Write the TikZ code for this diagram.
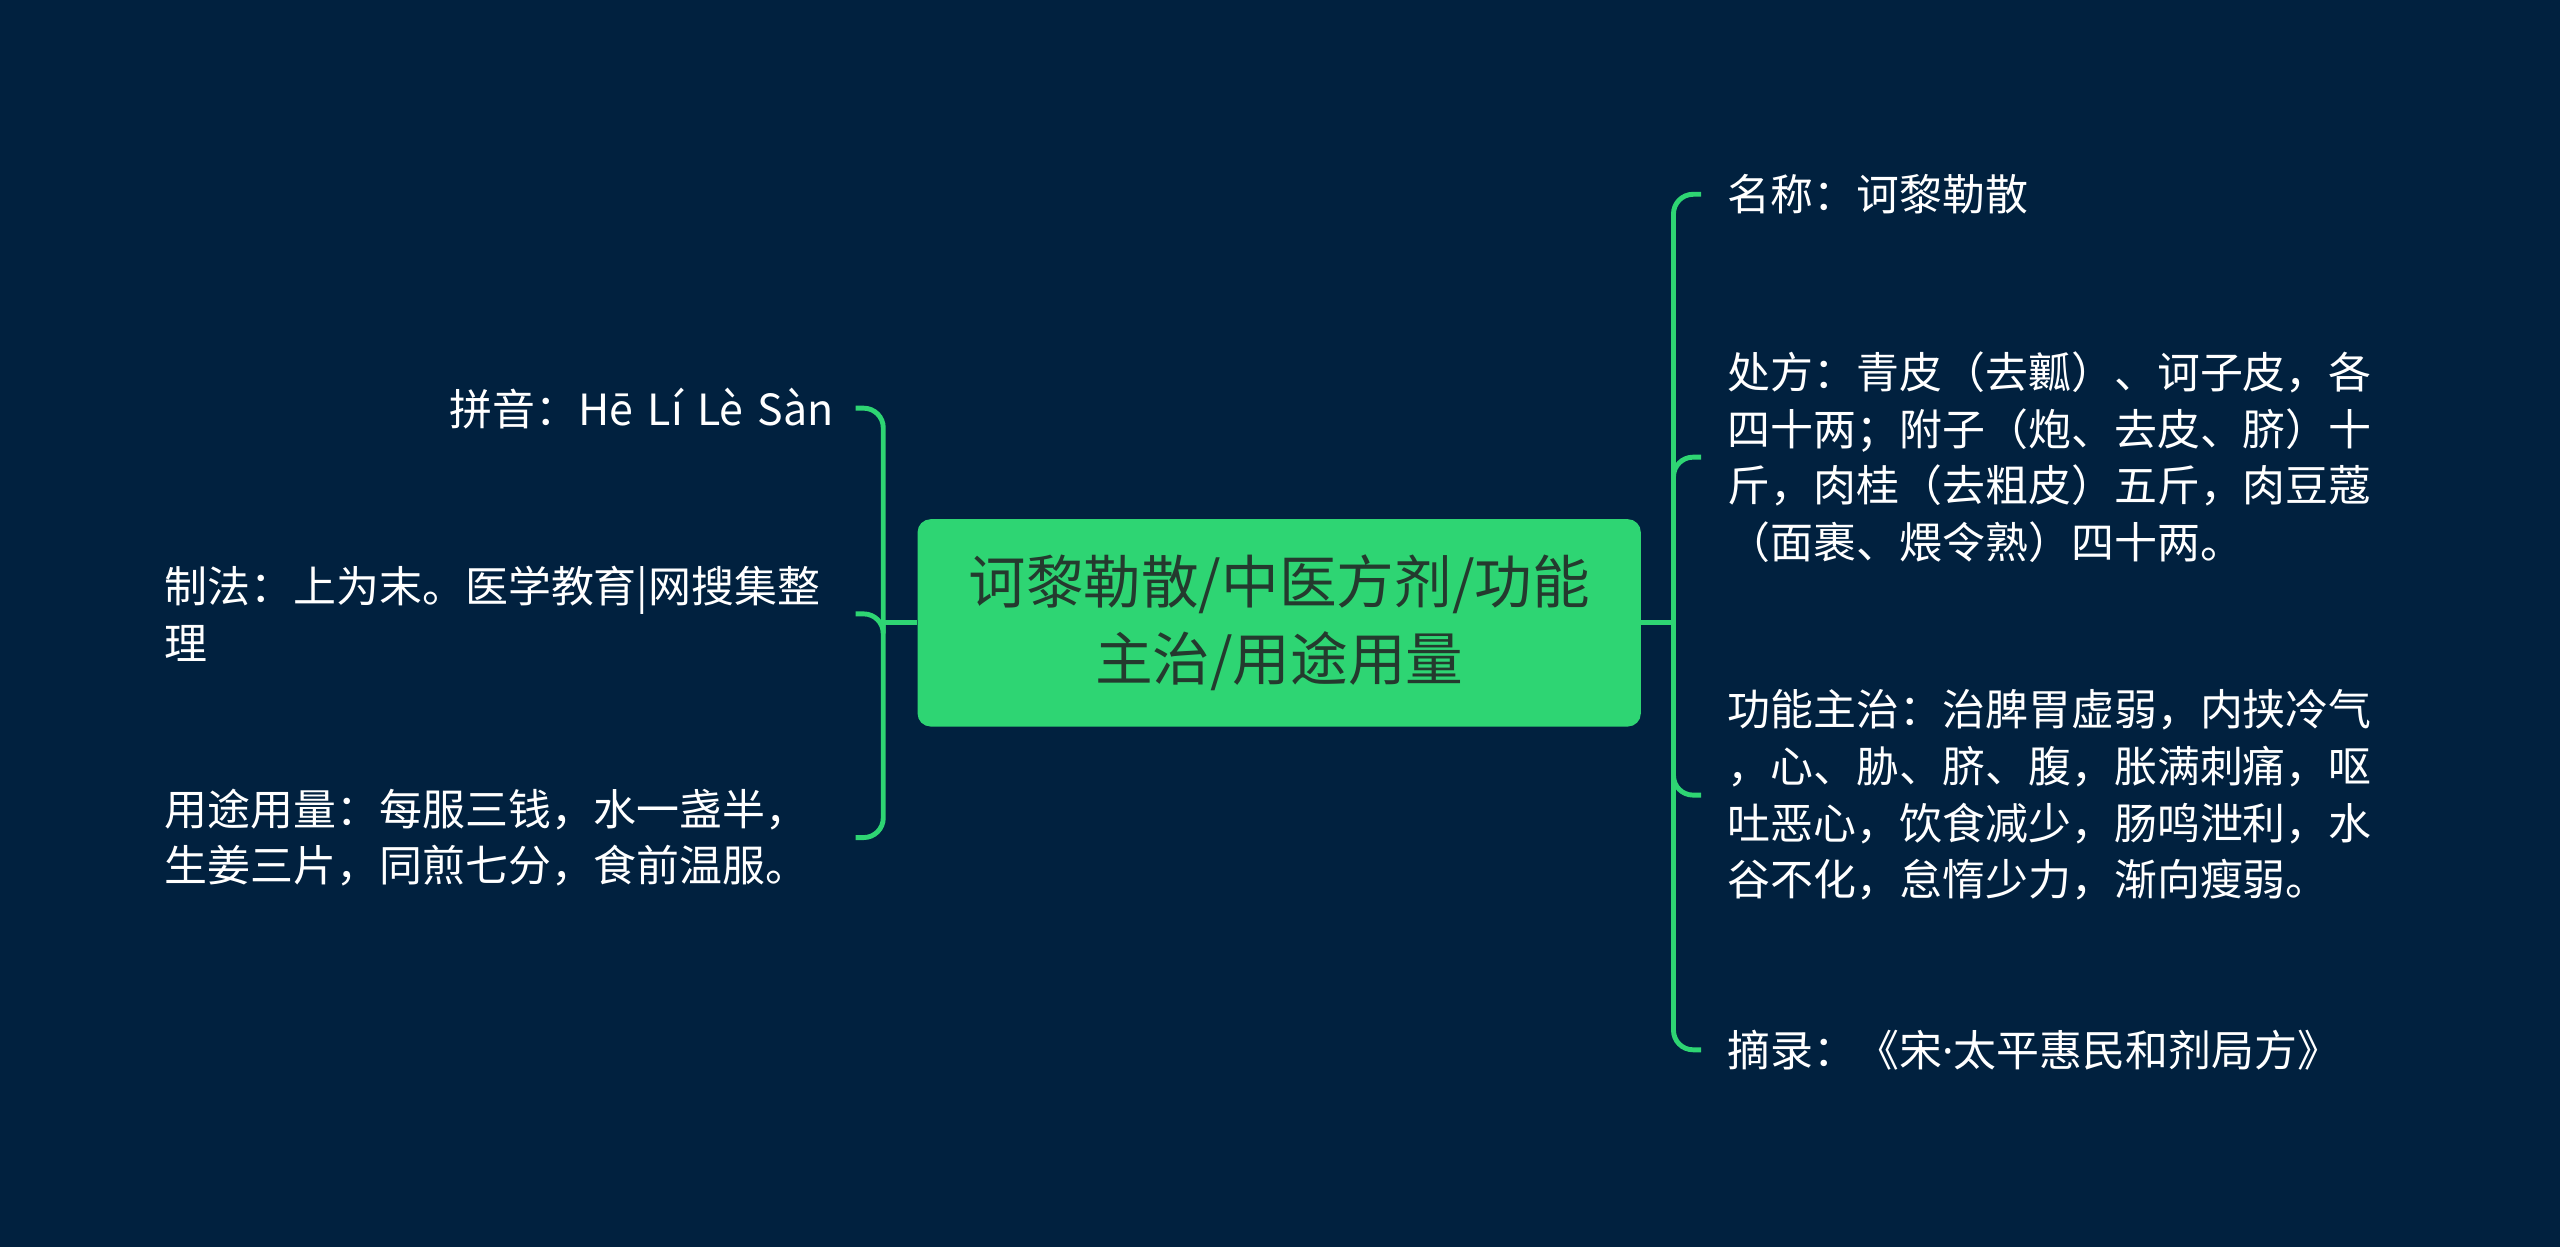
\documentclass[tikz,border=0pt]{standalone}
\usepackage{fontspec}
\setmainfont{Noto Sans CJK SC}
\newfontfamily\latinfont{Noto Sans}
\usetikzlibrary{positioning}
\definecolor{bg}{HTML}{01213F}
\definecolor{mint}{HTML}{2ED573}
\definecolor{ink}{HTML}{243A2E}
\tikzset{
  core/.style={
    shape = rectangle,
    rounded corners = 8pt,
    fill = mint,
    text = ink,
    minimum width = 443pt,
    minimum height = 127pt,
    align = center,
    font = \fontsize{35.3}{47}\selectfont
  },
  leafL/.style={
    anchor = east,
    text = white,
    inner xsep = 13pt,
    inner ysep = 0pt,
    text width = 410pt,
    align = left,
    font = \fontsize{26.3}{34.7}\selectfont
  },
  leafR/.style={
    anchor = west,
    text = white,
    inner xsep = 16pt,
    inner ysep = 0pt,
    text width = 400pt,
    align = left,
    font = \fontsize{26.3}{34.7}\selectfont
  },
  branch/.style={
    draw = mint,
    line width = 3pt,
    rounded corners = 12pt
  }
}
\begin{document}
\begin{tikzpicture}[x=1pt,y=-1pt]
    \def\lx{541}
    \def\rx{1025}
    \fill[bg] (0,0) rectangle (1568,764);
    \useasboundingbox (0,0) rectangle (1568,764);
        % centre
        \node[core] (core) at (783.5,381.5) {诃黎勒散/中医方剂/功能\\主治/用途用量};
        \coordinate (lhub) at (\lx,381.5);
        \coordinate (rhub) at (\rx,381.5);
        % left side
        \node[leafL, align=right] (pinyin) at (524,250) {拼音：Hē Lí Lè Sàn};
        \node[leafL] (method) at (524,376) {制法：上为末。医学教育|网搜集整\\理};
        \node[leafL] (usage) at (524,513) {用途用量：每服三钱，水一盏半，\\生姜三片，同煎七分，食前温服。};
        % right side
        \node[leafR] (name) at (1042,119) {名称：诃黎勒散};
        \node[leafR] (recipe) at (1042,280) {处方：青皮（去瓤）、诃子皮，各\\四十两；附子（炮、去皮、脐）十\\斤，肉桂（去粗皮）五斤，肉豆蔻\\（面裹、煨令熟）四十两。};
        \node[leafR] (effect) at (1042,487) {功能主治：治脾胃虚弱，内挟冷气\\，心、胁、脐、腹，胀满刺痛，呕\\吐恶心，饮食减少，肠鸣泄利，水\\谷不化，怠惰少力，渐向瘦弱。};
        \node[leafR] (source) at (1042,643) {摘录：《宋{\latinfont ·}太平惠民和剂局方》};
        % connectors
        \draw[branch] (core.west) -- (lhub);
        \foreach \n in {pinyin, method, usage}{
        \draw[branch] (lhub) |- (\n.east);
        }
        \draw[branch] (core.east) -- (rhub);
        \foreach \n in {name, recipe, effect, source}{
        \draw[branch] (rhub) |- (\n.west);
        }
    \end{tikzpicture}
\end{document}
